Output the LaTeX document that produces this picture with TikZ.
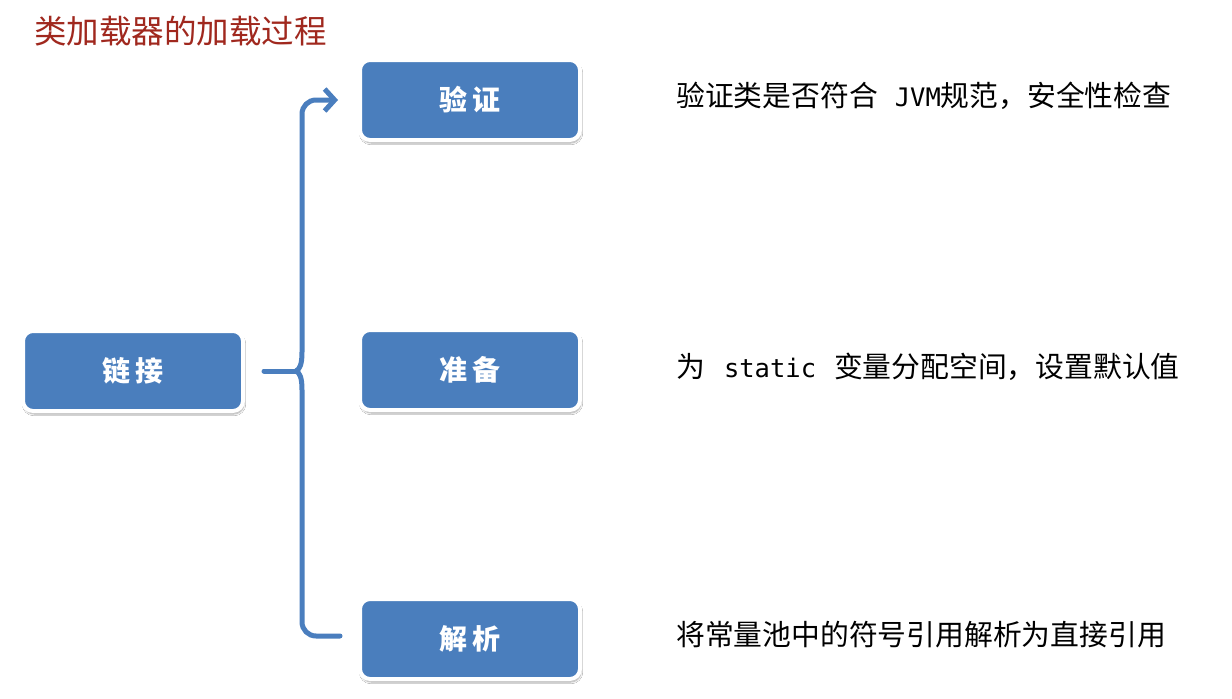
\documentclass[tikz,border=0pt]{standalone}
\usepackage{fontspec}
\usetikzlibrary{arrows.meta,shadows.blur}
\newfontfamily\cjk{Noto Sans CJK SC}
\newfontfamily\mono{DejaVu Sans Mono}
\definecolor{boxblue}{RGB}{74,126,189}
\definecolor{linkblue}{RGB}{74,126,190}
\definecolor{titlered}{RGB}{160,40,30}
\begin{document}
\begin{tikzpicture}[x=1pt,y=-1pt,
  stepbox/.style={rectangle, rounded corners=10pt, fill=boxblue, draw=white, line width=4pt,
    minimum width=220pt, minimum height=80pt, inner sep=0pt,
    text=white, font=\cjk\bfseries\fontsize{28}{32}\selectfont,
    text height=23.5pt, text depth=3.5pt,
    blur shadow={shadow blur steps=6, shadow xshift=1pt, shadow yshift=-3pt, shadow opacity=35}},
  desc/.style={anchor=base west, inner sep=0pt, text=black, font=\cjk\fontsize{28.8}{32}\selectfont},
  conn/.style={draw=linkblue, line width=5pt, line cap=round, line join=round}
]
\useasboundingbox (0,0) rectangle (1232,699);
\fill[white] (0,0) rectangle (1232,699);

\node[anchor=base west, inner sep=0pt, text=titlered, font=\cjk\fontsize{32.5}{36}\selectfont] (title) at (34,43) {类加载器的加载过程};

\node[stepbox] (lj) at (133,371) {链\hspace{5pt}接};
\node[stepbox] (yz) at (470,100) {验\hspace{5pt}证};
\node[stepbox] (zb) at (470,370) {准\hspace{5pt}备};
\node[stepbox] (jx) at (470,639) {解\hspace{5pt}析};

\node[desc] (d1) at (676,106) {验证类是否符合\hspace{17pt}{\mono\fontsize{25.5}{28}\selectfont JVM}规范，安全性检查};
\node[desc] (d2) at (676,377) {为\hspace{19pt}{\mono\fontsize{25.5}{28}\selectfont static}\hspace{18pt}变量分配空间，设置默认值};
\node[desc] (d3) at (676,645) {将常量池中的符号引用解析为直接引用};

\coordinate (start) at ([xshift=19pt]lj.east);
\coordinate (cusp) at (296,371);
\coordinate (tip) at ([xshift=-20pt]yz.west);
\coordinate (bend) at ([xshift=-18pt, yshift=3pt]jx.west);

\draw[conn] (start) -- (cusp);
\draw[conn, -{Straight Barb[length=10pt, width=22pt, line width=5pt]}]
  (cusp) .. controls (300,369) and (302,364) .. (302,352)
  [rounded corners=14pt] |- (tip);
\draw[conn]
  (cusp) .. controls (300,373) and (302,378) .. (302,390)
  [rounded corners=14pt] |- (bend);
\end{tikzpicture}
\end{document}
